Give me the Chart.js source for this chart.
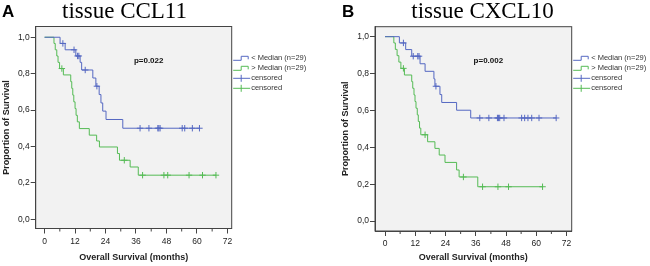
<!DOCTYPE html>
<html>
<head>
<meta charset="utf-8">
<script src="https://cdn.jsdelivr.net/npm/chart.js@4.4.0/dist/chart.umd.min.js"></script>
<style>
  html, body { margin:0; padding:0; background:#fff; }
  #wrap { position:relative; width:650px; height:266px; }
  .panel { position:absolute; top:0; width:325px; height:266px; }
</style>
</head>
<body>
<div id="wrap">
  <div class="panel" style="left:0"><canvas id="chartA" width="325" height="266"></canvas></div>
  <div class="panel" style="left:325px"><canvas id="chartB" width="325" height="266"></canvas></div>
</div>
<script>
// ====== DATA ======
const xTicks = [0, 12, 24, 36, 48, 60, 72];
const xMinorTicks = [6, 18, 30, 42, 54, 66];
const yTicks = [0, 0.2, 0.4, 0.6, 0.8, 1.0];
const legendLabels = ['< Median (n=29)', '> Median (n=29)', 'censored', 'censored'];

// panel A - tissue CCL11
const ccl11LowTimes  = [0, 6.1, 8.1, 12.3, 14.0, 14.6, 19.0, 20.2, 21.5, 22.2, 22.9, 24.2, 30.8];
const ccl11LowSurv   = [1.0, 0.966, 0.931, 0.897, 0.862, 0.820, 0.776, 0.731, 0.685, 0.639, 0.594, 0.548, 0.500];
const ccl11LowCens   = [7.2, 11.6, 13.0, 13.5, 16.0, 20.6, 37.6, 41.1, 44.6, 45.0, 45.5, 54.2, 55.2, 58.2, 61.0];
const ccl11HighTimes = [0, 3.7, 4.2, 4.8, 5.3, 5.9, 7.4, 10.3, 10.7, 11.1, 11.5, 12.0, 12.4, 12.9, 13.7, 17.6, 20.5, 21.6, 28.7, 29.5, 33.7, 36.9];
const ccl11HighSurv  = [1.0, 0.966, 0.931, 0.897, 0.862, 0.828, 0.793, 0.756, 0.719, 0.682, 0.645, 0.608, 0.571, 0.535, 0.498, 0.462, 0.430, 0.397, 0.361, 0.324, 0.287, 0.242];
const ccl11HighCens  = [6.8, 31.4, 38.6, 47.0, 48.5, 56.9, 62.2, 67.5];

// panel B - tissue CXCL10
const cxcl10LowTimes  = [0, 5.7, 8.2, 10.6, 13.9, 15.9, 19.4, 19.8, 21.8, 22.5, 28.4, 34.0];
const cxcl10LowSurv   = [1.0, 0.966, 0.930, 0.894, 0.853, 0.812, 0.771, 0.731, 0.686, 0.643, 0.601, 0.559];
const cxcl10LowCens   = [7.3, 11.2, 13.0, 13.5, 20.2, 37.6, 41.2, 44.6, 45.0, 45.5, 47.2, 54.2, 55.4, 56.7, 58.2, 61.1, 67.9];
const cxcl10HighTimes = [0, 3.5, 4.1, 4.8, 5.5, 6.3, 7.7, 10.6, 11.0, 11.5, 11.9, 12.3, 12.8, 13.2, 13.7, 14.2, 16.9, 19.8, 21.5, 23.8, 28.4, 29.4, 36.8];
const cxcl10HighSurv  = [1.0, 0.966, 0.931, 0.897, 0.862, 0.828, 0.792, 0.756, 0.720, 0.684, 0.648, 0.612, 0.576, 0.540, 0.504, 0.468, 0.430, 0.394, 0.358, 0.318, 0.277, 0.239, 0.186];
const cxcl10HighCens  = [7.3, 15.9, 31.1, 38.7, 44.8, 49.0, 62.5];

// ====== STYLE ======
const BLUE  = '#5568c2';
const GREEN = '#55bb55';
const AXIS  = '#444';
const SANS  = '"Liberation Sans", Arial, sans-serif';
const SERIF = '"Liberation Serif", "Times New Roman", serif';

// ====== UTIL ======
// survival value of the step curve at time t
function survAt(times, surv, t){
  let s = surv[0];
  for(let i = 0; i < times.length; i++){ if(times[i] <= t) s = surv[i]; }
  return s;
}
function stepLine(times, surv, cens){
  const pts = times.map((t, i) => ({ x: t, y: surv[i] }));
  const lastC = Math.max(...cens);
  if(lastC > times[times.length-1]) pts.push({ x: lastC, y: surv[surv.length-1] });
  return pts;
}
function censPoints(times, surv, cens){
  return cens.map(t => ({ x: t, y: survAt(times, surv, t) }));
}
function datasets(low, high){
  return [
    { data: stepLine(...low), borderColor: BLUE, borderWidth: 1, stepped: 'before', pointRadius: 0, fill: false },
    { data: stepLine(...high), borderColor: GREEN, borderWidth: 1, stepped: 'before', pointRadius: 0, fill: false },
    { data: censPoints(...low), showLine: false, pointStyle: 'cross', pointRadius: 3.2, borderColor: BLUE, borderWidth: 1 },
    { data: censPoints(...high), showLine: false, pointStyle: 'cross', pointRadius: 3.2, borderColor: GREEN, borderWidth: 1 }
  ];
}

// background, frame, minor ticks, titles, p value and legend
const panelPlugin = {
  id: 'panel',
  beforeDraw(chart, args, o){
    const { ctx, chartArea: a } = chart;
    ctx.save();
    ctx.fillStyle = '#f2f2f2';
    ctx.fillRect(a.left, a.top, a.right - a.left, a.bottom - a.top);
    ctx.restore();
  },
  afterDraw(chart, args, o){
    const { ctx, chartArea: a, scales } = chart;
    ctx.save();
    ctx.strokeStyle = AXIS;
    ctx.lineWidth = 1;
    ctx.strokeRect(a.left, a.top, a.right - a.left, a.bottom - a.top);
    // minor ticks on x axis
    ctx.beginPath();
    xMinorTicks.forEach(m => {
      const px = scales.x.getPixelForValue(m);
      ctx.moveTo(px, a.bottom);
      ctx.lineTo(px, a.bottom + 3);
    });
    ctx.stroke();

    // panel letter + title
    ctx.fillStyle = '#000';
    ctx.textBaseline = 'alphabetic';
    ctx.textAlign = 'left';
    ctx.font = 'bold 17px ' + SANS;
    ctx.fillText(o.letter, o.letterX, 17);
    ctx.textAlign = 'center';
    ctx.font = '23px ' + SERIF;
    ctx.fillText(o.title, o.titleX, 18);

    // p value
    ctx.font = 'bold 8px ' + SANS;
    ctx.fillStyle = '#111';
    ctx.textBaseline = 'middle';
    ctx.fillText(o.pText, scales.x.getPixelForValue(41), scales.y.getPixelForValue(0.87));

    // legend
    const x0 = a.right + 1.5;
    const rows = [58.3, 68.3, 78.3, 88.3];
    const cols = [BLUE, GREEN, BLUE, GREEN];
    ctx.textAlign = 'left';
    ctx.font = '7.5px ' + SANS;
    rows.forEach((y, i) => {
      ctx.strokeStyle = cols[i];
      ctx.beginPath();
      if(i < 2){
        ctx.moveTo(x0, y + 2); ctx.lineTo(x0 + 8, y + 2); ctx.lineTo(x0 + 8, y - 2);
        ctx.lineTo(x0 + 15, y - 2); ctx.lineTo(x0 + 15, y + 1);
      } else {
        ctx.moveTo(x0, y); ctx.lineTo(x0 + 17, y);
        ctx.moveTo(x0 + 8, y - 3.5); ctx.lineTo(x0 + 8, y + 3.5);
      }
      ctx.stroke();
      ctx.fillStyle = '#333';
      ctx.fillText(legendLabels[i], x0 + 18, y);
    });
    ctx.restore();
  }
};

function makeChart(id, cfg){
  const W = 325, H = 266;
  return new Chart(document.getElementById(id), {
    type: 'line',
    data: { datasets: datasets(cfg.low, cfg.high) },
    options: {
      responsive: false,
      animation: false,
      layout: { padding: { left: cfg.padLeft, top: cfg.plotTop, right: W - cfg.plotRight, bottom: 0 } },
      plugins: {
        legend: { display: false },
        tooltip: { enabled: false },
        panel: { letter: cfg.letter, letterX: cfg.letterX, title: cfg.title, titleX: cfg.titleX, pText: cfg.pText }
      },
      scales: {
        x: {
          type: 'linear', min: cfg.xMin, max: cfg.xMax,
          afterBuildTicks: s => { s.ticks = xTicks.map(v => ({ value: v })); },
          afterFit: s => { s.height = H - cfg.plotBottom; },
          grid: { drawOnChartArea: false, drawTicks: true, tickLength: 5, color: AXIS },
          border: { display: true, color: AXIS },
          ticks: { autoSkip: false, maxRotation: 0, padding: 3, color: '#222',
                   font: { family: SANS, size: 8.5 }, callback: v => String(v) },
          title: { display: true, text: 'Overall Survival (months)', color: '#222',
                   font: { family: SANS, size: 9, weight: 'bold' }, padding: { top: 0, bottom: 3 } }
        },
        y: {
          type: 'linear', min: cfg.yMin, max: cfg.yMax,
          afterBuildTicks: s => { s.ticks = yTicks.map(v => ({ value: v })); },
          afterFit: s => { s.width = cfg.plotLeft - cfg.padLeft; },
          grid: { drawOnChartArea: false, drawTicks: true, tickLength: 5, color: AXIS },
          border: { display: true, color: AXIS },
          ticks: { padding: 1, color: '#222', font: { family: SANS, size: 8.5 },
                   callback: v => v.toFixed(1).replace('.', ',') },
          title: { display: true, text: 'Proportion of Survival', color: '#222',
                   font: { family: SANS, size: 9, weight: 'bold' }, padding: { top: 1, bottom: 0 } }
        }
      }
    },
    plugins: [panelPlugin]
  });
}

makeChart('chartA', {
  low: [ccl11LowTimes, ccl11LowSurv, ccl11LowCens],
  high: [ccl11HighTimes, ccl11HighSurv, ccl11HighCens],
  padLeft: 0, plotLeft: 35.7, plotTop: 26.5, plotRight: 231.7, plotBottom: 228.5,
  xMin: -3.5, xMax: 73.7, yMin: -0.051, yMax: 1.059,
  letter: 'A', letterX: 2, title: 'tissue CCL11', titleX: 124.5, pText: 'p=0.022'
});

makeChart('chartB', {
  low: [cxcl10LowTimes, cxcl10LowSurv, cxcl10LowCens],
  high: [cxcl10HighTimes, cxcl10HighSurv, cxcl10HighCens],
  padLeft: 14, plotLeft: 50, plotTop: 26.7, plotRight: 246.7, plotBottom: 231,
  xMin: -3.97, xMax: 74.06, yMin: -0.054, yMax: 1.054,
  letter: 'B', letterX: 17, title: 'tissue CXCL10', titleX: 157.5, pText: 'p=0.002'
});
</script>
</body>
</html>
